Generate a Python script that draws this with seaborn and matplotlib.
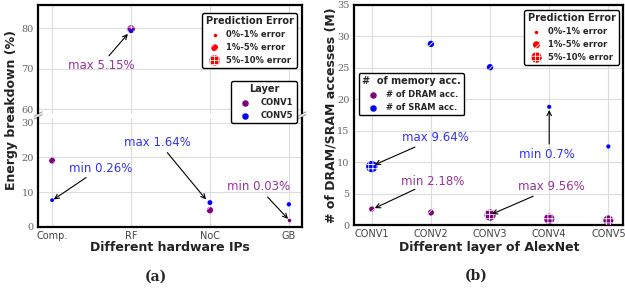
import numpy as np
import matplotlib
matplotlib.use('Agg')
import matplotlib.pyplot as plt
import seaborn as sns

# (a) energy breakdown per hardware IP
hw_ips = ['Comp.', 'RF', 'NoC', 'GB']
conv1_energy = [19.1, 79.8, 4.8, 2.1]
conv5_energy = [7.7, 79.3, 7.0, 6.5]
conv1_error = [3.0, 5.15, 3.5, 0.03]
conv5_error = [0.26, 0.5, 1.64, 0.9]

# (b) memory accesses per AlexNet layer (millions)
layers = ['CONV1', 'CONV2', 'CONV3', 'CONV4', 'CONV5']
dram_acc = [2.55, 2.0, 1.6, 1.0, 0.75]
sram_acc = [9.3, 28.8, 25.1, 18.8, 12.5]
dram_error = [2.18, 3.0, 9.56, 8.5, 8.0]
sram_error = [9.64, 3.5, 3.5, 0.7, 0.8]

sns.set_style('whitegrid', {'grid.color': '#dcdcdc', 'axes.edgecolor': 'black'})
plt.rcParams['hatch.linewidth'] = 0.6
plt.rcParams['hatch.color'] = 'white'
plt.rcParams['font.family'] = ['DejaVu Sans']

PURPLE = '#800080'
BLUE = '#0000ff'


def err_class(e):
    if e < 1:
        return None
    if e < 5:
        return '////'
    return '++++'


def marker_size(e):
    d = 3.6 + 0.8 * e
    return (d * 0.72) ** 2


def draw_series(ax, vals, errs, color):
    xs = np.arange(len(vals))
    vals = np.array(vals)
    errs = np.array(errs)
    for hatch in [None, '////', '++++']:
        idx = [i for i, e in enumerate(errs) if err_class(e) == hatch]
        if not idx:
            continue
        sns.scatterplot(x=xs[idx], y=vals[idx], s=[marker_size(e) for e in errs[idx]],
                        color=color, hatch=hatch, edgecolor='white', linewidth=0,
                        ax=ax, zorder=3, legend=False)


def style_axes(ax):
    for sp in ax.spines.values():
        sp.set_linewidth(1.6)
        sp.set_color('black')
    ax.tick_params(axis='both', length=0)
    ax.tick_params(axis='x', labelsize=7, labelcolor='#444444', pad=3)
    ax.tick_params(axis='y', labelsize=7, labelcolor='#666666', pad=3)
    for lab in ax.get_yticklabels():
        lab.set_fontfamily('DejaVu Serif')


fig = plt.figure(figsize=(6.25, 2.89), dpi=100)

# ---------- (a) broken axis ----------
ax_top = fig.add_axes([0.061, 0.609, 0.422, 0.374])
ax_bot = fig.add_axes([0.061, 0.215, 0.422, 0.377])

for ax in (ax_top, ax_bot):
    draw_series(ax, conv1_energy, conv1_error, PURPLE)
    draw_series(ax, conv5_energy, conv5_error, BLUE)
    ax.set_xlim(-0.177, 3.165)
    ax.set_xticks(range(len(hw_ips)))
    ax.set_xlabel('')
    ax.set_ylabel('')

ax_top.set_ylim(59.1, 85.75)
ax_top.set_yticks([60, 70, 80])
ax_top.set_xticklabels([])
ax_top.spines['bottom'].set_visible(False)
ax_bot.set_ylim(0, 31.4)
ax_bot.set_yticks([0, 10, 20, 30])
ax_bot.set_xticklabels(hw_ips)
ax_bot.spines['top'].set_visible(False)
style_axes(ax_top)
style_axes(ax_bot)

# break marks
for xa in (0, 1):
    ax_top.plot([xa - 0.015, xa + 0.015], [-0.03, 0.01], transform=ax_top.transAxes,
                color='#999999', lw=0.8, clip_on=False)
    ax_bot.plot([xa - 0.015, xa + 0.015], [0.99, 1.03], transform=ax_bot.transAxes,
                color='#999999', lw=0.8, clip_on=False)

arrow = dict(arrowstyle='->', color='black', lw=0.8, shrinkA=0, shrinkB=0, mutation_scale=8)
ax_top.annotate('', xy=(0.96, 78.6), xytext=(0.72, 73.2), arrowprops=arrow)
ax_top.text(0.62, 70.7, 'max 5.15%', color=PURPLE, alpha=0.8, fontsize=8.5, ha='center', va='center')
ax_bot.annotate('', xy=(1.95, 7.9), xytext=(1.46, 21.4), arrowprops=arrow)
ax_bot.text(1.33, 24.4, 'max 1.64%', color=BLUE, alpha=0.8, fontsize=8.5, ha='center', va='center')
ax_bot.annotate('', xy=(0.02, 7.9), xytext=(0.43, 14.2), arrowprops=arrow)
ax_bot.text(0.61, 16.9, 'min 0.26%', color=BLUE, alpha=0.8, fontsize=8.5, ha='center', va='center')
ax_bot.annotate('', xy=(2.99, 2.3), xytext=(2.73, 8.6), arrowprops=arrow)
ax_bot.text(2.61, 11.5, 'min 0.03%', color=PURPLE, alpha=0.8, fontsize=8.5, ha='center', va='center')

fig.text(0.019, 0.62, 'Energy breakdown (%)', rotation=90, ha='center', va='center',
         fontsize=9, fontweight='bold', color='#222222')
fig.text(0.272, 0.142, 'Different hardware IPs', ha='center', va='center',
         fontsize=9, fontweight='bold', color='#222222')
fig.text(0.25, 0.042, '(a)', ha='center', va='center', fontsize=10,
         fontweight='bold', fontfamily='DejaVu Serif')

# ---------- (b) ----------
ax_b = fig.add_axes([0.566, 0.221, 0.431, 0.762])
draw_series(ax_b, dram_acc, dram_error, PURPLE)
draw_series(ax_b, sram_acc, sram_error, BLUE)
ax_b.set_xlim(-0.305, 4.25)
ax_b.set_ylim(0, 35)
ax_b.set_xticks(range(len(layers)))
ax_b.set_xticklabels(layers)
ax_b.set_yticks(range(0, 36, 5))
ax_b.set_xlabel('')
ax_b.set_ylabel('')
style_axes(ax_b)

ax_b.annotate('', xy=(0.05, 9.6), xytext=(0.73, 12.4), arrowprops=arrow)
ax_b.text(1.07, 14.0, 'max 9.64%', color=BLUE, alpha=0.8, fontsize=8.5, ha='center', va='center')
ax_b.annotate('', xy=(3.0, 18.3), xytext=(3.0, 12.9), arrowprops=arrow)
ax_b.text(2.97, 11.2, 'min 0.7%', color=BLUE, alpha=0.8, fontsize=8.5, ha='center', va='center')
ax_b.annotate('', xy=(0.05, 2.7), xytext=(0.73, 5.7), arrowprops=arrow)
ax_b.text(1.03, 7.0, 'min 2.18%', color=PURPLE, alpha=0.8, fontsize=8.5, ha='center', va='center')
ax_b.annotate('', xy=(2.03, 1.75), xytext=(2.73, 4.6), arrowprops=arrow)
ax_b.text(3.04, 6.1, 'max 9.56%', color=PURPLE, alpha=0.8, fontsize=8.5, ha='center', va='center')

fig.text(0.53, 0.60, '# of DRAM/SRAM accesses (M)', rotation=90, ha='center', va='center',
         fontsize=9, fontweight='bold', color='#222222')
fig.text(0.783, 0.145, 'Different layer of AlexNet', ha='center', va='center',
         fontsize=9, fontweight='bold', color='#222222')
fig.text(0.762, 0.045, '(b)', ha='center', va='center', fontsize=10,
         fontweight='bold', fontfamily='DejaVu Serif')

# ---------- legends ----------
def proxy(color, diam_px, hatch=None):
    return ax_b.scatter([], [], s=(diam_px * 0.72) ** 2, color=color, hatch=hatch,
                        edgecolor='white', linewidth=0)


err_labels = ['0%-1% error', '1%-5% error', '5%-10% error']


def add_legend(handles, labels, title, loc, anchor, hl=1.5):
    leg = fig.legend(handles, labels, title=title, loc=loc, bbox_to_anchor=anchor,
                     bbox_transform=fig.transFigure, borderaxespad=0, scatterpoints=1,
                     prop={'weight': 'bold', 'size': 6},
                     title_fontproperties={'weight': 'bold', 'size': 7},
                     frameon=True, framealpha=1, edgecolor='black', fancybox=True,
                     labelspacing=0.45, handletextpad=0.6, borderpad=0.4, handlelength=hl)
    leg.get_frame().set_linewidth(1.0)
    return leg


def err_handles():
    return [proxy('red', 3.5), proxy('red', 7, '////'), proxy('red', 10.5, '++++')]


add_legend(err_handles(), err_labels, 'Prediction Error', 'upper right', (0.475, 0.955))
add_legend([proxy(PURPLE, 6.5), proxy(BLUE, 6.5)], ['CONV1', 'CONV5'], 'Layer',
           'upper right', (0.475, 0.72), hl=2.6)
add_legend(err_handles(), err_labels, 'Prediction Error', 'upper right', (0.99, 0.965))
add_legend([proxy(PURPLE, 6.5), proxy(BLUE, 6.5)], ['# of DRAM acc.', '# of SRAM acc.'],
           '#  of memory acc.', 'upper left', (0.574, 0.747), hl=2.0)

fig.savefig('out.png', dpi=100)
